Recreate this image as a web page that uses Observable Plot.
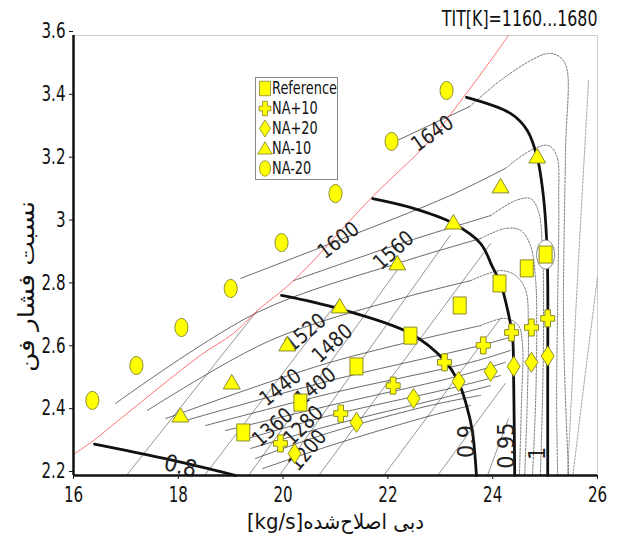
<!DOCTYPE html>
<html><head><meta charset="utf-8">
<script src="https://cdn.jsdelivr.net/npm/d3@7"></script>
<script src="https://cdn.jsdelivr.net/npm/@observablehq/plot@0.6"></script>
<style>
body{margin:0;background:#fff;}
#wrap{position:relative;width:618px;height:538px;font-family:"DejaVu Sans",sans-serif;}
#legend{position:absolute;left:255px;top:77px;width:83px;height:103px;border:1px solid #888;background:#fff;box-sizing:border-box;}
#legend svg{display:block;overflow:visible;}
</style></head><body><div id="wrap"></div>
<script>
// ---------- data ----------
const xTicks = [16, 18, 20, 22, 24, 26];
const yTicks = [2.2, 2.4, 2.6, 2.8, 3.0, 3.2, 3.4, 3.6];
const xLabel = "[kg/s]دبی اصلاح‌شده";
const yLabel = "نسبت فشار فن";
const title = "TIT[K]=1160...1680";

const seriesNames = ["Reference", "NA+10", "NA+20", "NA-10", "NA-20"];
const refX = [19.24, 20.33, 21.40, 22.43, 23.37, 24.13, 24.65, 25.01];
const refY = [2.337, 2.432, 2.547, 2.645, 2.741, 2.811, 2.859, 2.903];
const p10X = [19.95, 21.10, 22.10, 23.08, 23.82, 24.36, 24.74, 25.05];
const p10Y = [2.302, 2.397, 2.486, 2.560, 2.614, 2.655, 2.671, 2.700];
const p20X = [20.22, 21.40, 22.49, 23.35, 23.96, 24.40, 24.74, 25.05];
const p20Y = [2.270, 2.369, 2.445, 2.499, 2.531, 2.547, 2.560, 2.580];
const m10X = [18.04, 19.02, 20.08, 21.08, 22.18, 23.25, 24.15, 24.85];
const m10Y = [2.391, 2.496, 2.617, 2.738, 2.875, 3.005, 3.120, 3.215];
const m20X = [16.36, 17.20, 18.06, 19.00, 19.97, 21.00, 22.07, 23.12];
const m20Y = [2.439, 2.550, 2.671, 2.795, 2.941, 3.097, 3.263, 3.425];
const highlightPoint = {x: 25.01, y: 2.903};

// surge line (red)
const surgeX = [16.0, 16.38, 16.90, 18.42, 19.05, 19.51, 20.20, 21.67, 22.76, 23.44, 23.96, 24.30];
const surgeY = [2.267, 2.311, 2.381, 2.582, 2.652, 2.725, 2.820, 3.081, 3.259, 3.403, 3.520, 3.600];

// corrected speed lines (thick)
const speedNames = ["0.8", "0.9", "0.95", "1"];
const speedX = [
  [16.40, 17.80, 19.10],
  [19.97, 21.06, 22.43, 23.08, 23.35, 23.50, 23.61, 23.69],
  [21.71, 22.49, 23.25, 23.77, 24.00, 24.15, 24.30, 24.38, 24.40, 24.42],
  [23.50, 24.34, 24.66, 24.85, 24.97, 25.03, 25.05, 25.05, 25.05]
];
const speedY = [
  [2.300, 2.252, 2.200],
  [2.773, 2.731, 2.652, 2.566, 2.496, 2.423, 2.343, 2.200],
  [3.081, 3.050, 3.002, 2.938, 2.862, 2.811, 2.715, 2.639, 2.502, 2.200],
  [3.403, 3.352, 3.298, 3.212, 3.085, 2.948, 2.820, 2.502, 2.200]
];
const speedLabelX = [18.04, 23.50, 24.26, 24.85];
const speedLabelY = [2.229, 2.308, 2.295, 2.270];
const speedLabelRot = [14, -90, -90, -90];

// TIT lines: solid part (1160 ... 1640)
const titSolidX = [
  [19.61, 20.90, 22.62, 23.58],
  [19.47, 20.90, 22.81, 23.77],
  [19.38, 20.90, 23.00, 23.96],
  [19.19, 20.90, 23.19, 24.15],
  [18.90, 20.90, 23.39, 24.24],
  [18.52, 20.90, 23.58, 24.34],
  [18.14, 20.90, 23.77, 24.44],
  [17.76, 20.90, 23.77],
  [17.41, 19.76, 22.24, 23.58],
  [16.80, 19.51, 22.24, 23.77],
  [20.20, 22.24, 23.96],
  [19.19, 21.06, 23.19, 24.24],
  [22.18, 23.56]
];
const titSolidY = [
  [2.222, 2.295, 2.381, 2.423],
  [2.254, 2.337, 2.423, 2.455],
  [2.286, 2.359, 2.445, 2.486],
  [2.311, 2.391, 2.477, 2.518],
  [2.343, 2.423, 2.518, 2.560],
  [2.359, 2.461, 2.560, 2.598],
  [2.375, 2.502, 2.614, 2.645],
  [2.381, 2.560, 2.677],
  [2.407, 2.630, 2.763, 2.820],
  [2.429, 2.719, 2.878, 2.954],
  [2.820, 2.938, 3.027],
  [2.827, 2.948, 3.091, 3.177],
  [3.266, 3.374]
];
// TIT lines: dashed continuation (arch bending down)
const titDashX = [
  [23.77, 24.24, 24.49, 24.57, 24.55, 24.51],
  [23.58, 24.15, 24.44, 24.63, 24.68, 24.66, 24.61],
  [23.77, 24.24, 24.53, 24.72, 24.82, 24.84, 24.82, 24.76],
  [23.96, 24.44, 24.72, 24.87, 24.95, 24.97, 24.95, 24.91],
  [24.24, 24.72, 25.06, 25.22, 25.26, 25.24, 25.22, 25.24],
  [23.56, 24.15, 24.72, 25.06, 25.27, 25.41, 25.39, 25.35, 25.39, 25.45]
];
const titDashY = [
  [2.677, 2.700, 2.677, 2.614, 2.439, 2.200],
  [2.820, 2.852, 2.836, 2.789, 2.661, 2.439, 2.200],
  [2.954, 2.986, 2.980, 2.932, 2.820, 2.661, 2.439, 2.200],
  [3.027, 3.075, 3.081, 3.043, 2.916, 2.693, 2.439, 2.200],
  [3.177, 3.234, 3.250, 3.218, 3.075, 2.757, 2.439, 2.200],
  [3.374, 3.457, 3.520, 3.543, 3.533, 3.498, 3.234, 2.715, 2.439, 2.200]
];
// far-right dashed lines
const farX = [[25.83, 25.62, 25.43], [26.0, 25.75, 25.53]];
const farY = [[3.457, 2.830, 2.206], [2.830, 2.500, 2.200]];

const titLabels = ["1640", "1600", "1560", "1520", "1480", "1440", "1400", "1360", "1280", "1200"];
const titLabelX = [22.85, 21.06, 22.11, 20.43, 20.94, 19.95, 20.62, 19.80, 20.39, 20.47];
const titLabelY = [3.288, 2.948, 2.916, 2.655, 2.620, 2.480, 2.483, 2.353, 2.359, 2.280];
const titLabelRot = [-35, -38, -42, -40, -42, -38, -40, -42, -45, -50];

// steep thin lines
const steepX = [[17.01, 19.51], [18.50, 21.06], [19.34, 22.24], [19.93, 23.19], [20.68, 23.96], [21.92, 24.15], [22.95, 24.24], [23.90, 24.30]];
const steepY = [[2.200, 2.725], [2.200, 2.757], [2.200, 2.868], [2.200, 2.964], [2.200, 2.938], [2.200, 2.700], [2.200, 2.493], [2.200, 2.380]];

// ---------- build tables ----------
function pts(xs, ys, extra) { return xs.map((x, i) => ({x, y: ys[i], ...extra})); }
const speedData = speedX.flatMap((xs, k) => pts(xs, speedY[k], {k}));
const titSolid = titSolidX.flatMap((xs, k) => pts(xs, titSolidY[k], {k}));
const titDash = titDashX.flatMap((xs, k) => pts(xs, titDashY[k], {k}));
const farData = farX.flatMap((xs, k) => pts(xs, farY[k], {k}));
const steepData = steepX.flatMap((xs, k) => pts(xs, steepY[k], {k}));

// ---------- symbols ----------
const K = 0.5523;
function ellipse(c, a, b) {
  c.moveTo(a, 0);
  c.bezierCurveTo(a, b * K, a * K, b, 0, b);
  c.bezierCurveTo(-a * K, b, -a, b * K, -a, 0);
  c.bezierCurveTo(-a, -b * K, -a * K, -b, 0, -b);
  c.bezierCurveTo(a * K, -b, a, -b * K, a, 0);
  c.closePath();
}
const symRect = {draw(c) { c.rect(-6.5, -8.5, 13, 17); }};
const symEllipse = {draw(c) { ellipse(c, 6.5, 9); }};
const symDiamond = {draw(c) { c.moveTo(0, -10); c.lineTo(6.5, 0); c.lineTo(0, 10); c.lineTo(-6.5, 0); c.closePath(); }};
const symTri = {draw(c) { c.moveTo(0, -8); c.lineTo(8.5, 6.5); c.lineTo(-8.5, 6.5); c.closePath(); }};
const symPlus = {draw(c) {
  const w = 2.8, h = 8.5, a = 7;
  c.moveTo(-w, -h); c.lineTo(w, -h); c.lineTo(w, -w); c.lineTo(a, -w); c.lineTo(a, w); c.lineTo(w, w);
  c.lineTo(w, h); c.lineTo(-w, h); c.lineTo(-w, w); c.lineTo(-a, w); c.lineTo(-a, -w); c.lineTo(-w, -w); c.closePath();
}};
const symHalo = {draw(c) { ellipse(c, 9, 14.5); }};

const YEL = "#ffff00", EDGE = "#8a8a30";

const chart = Plot.plot({
  width: 618, height: 538,
  marginLeft: 73, marginRight: 21, marginTop: 35, marginBottom: 63,
  x: {domain: [16, 26], ticks: xTicks},
  y: {domain: [2.2, 3.6], ticks: yTicks},
  style: {fontFamily: '"DejaVu Sans",sans-serif', fontSize: "20px", color: "#111", background: "#fff", overflow: "visible"},
  marks: [
    Plot.ruleY([3.6], {stroke: "#ccc", strokeWidth: 1}),
    Plot.ruleX([26], {stroke: "#ccc", strokeWidth: 1}),
    Plot.line(steepData, {x: "x", y: "y", z: "k", stroke: "#666", strokeWidth: 0.7}),
    Plot.line(farData, {x: "x", y: "y", z: "k", stroke: "#777", strokeWidth: 0.7, strokeDasharray: "2,1.5", curve: "catmull-rom"}),
    Plot.line(titSolid, {x: "x", y: "y", z: "k", stroke: "#444", strokeWidth: 0.8, curve: "catmull-rom"}),
    Plot.line(titDash, {x: "x", y: "y", z: "k", stroke: "#555", strokeWidth: 0.8, strokeDasharray: "2,1.5", curve: "catmull-rom"}),
    Plot.line(pts(surgeX, surgeY, {}), {x: "x", y: "y", stroke: "#ff5050", strokeWidth: 0.8, curve: "catmull-rom"}),
    Plot.line(speedData, {x: "x", y: "y", z: "k", stroke: "#111", strokeWidth: 2.8, curve: "catmull-rom"}),
    Plot.text(titLabels, {x: (d, i) => titLabelX[i], y: (d, i) => titLabelY[i], text: d => d, rotate: (d, i) => titLabelRot[i], fontSize: 21, fill: "#222"}),
    Plot.text(speedNames, {x: (d, i) => speedLabelX[i], y: (d, i) => speedLabelY[i], text: d => d, rotate: (d, i) => speedLabelRot[i], fontSize: 23, fill: "#222"}),
    Plot.dot([highlightPoint], {x: "x", y: "y", symbol: symHalo, fill: "#fff", stroke: "#888", strokeWidth: 1}),
    Plot.dot(pts(m20X, m20Y, {}), {x: "x", y: "y", symbol: symEllipse, fill: YEL, stroke: EDGE, strokeWidth: 1}),
    Plot.dot(pts(m10X, m10Y, {}), {x: "x", y: "y", symbol: symTri, fill: YEL, stroke: EDGE, strokeWidth: 1}),
    Plot.dot(pts(refX, refY, {}), {x: "x", y: "y", symbol: symRect, fill: YEL, stroke: EDGE, strokeWidth: 1}),
    Plot.dot(pts(p10X, p10Y, {}), {x: "x", y: "y", symbol: symPlus, fill: YEL, stroke: EDGE, strokeWidth: 1}),
    Plot.dot(pts(p20X, p20Y, {}), {x: "x", y: "y", symbol: symDiamond, fill: YEL, stroke: EDGE, strokeWidth: 1}),
    Plot.ruleX([16], {stroke: "#111", strokeWidth: 2.5}),
    Plot.ruleY([2.2], {stroke: "#111", strokeWidth: 2.5}),
    Plot.axisX({ticks: xTicks, tickSize: 4, tickPadding: 8, tickFormat: d => String(d), label: null, fontSize: 21}),
    Plot.axisY({ticks: yTicks, tickSize: 4, tickPadding: 4, dy: -4, tickFormat: d => d === 3 ? "3" : d.toFixed(1), label: null, fontSize: 21}),
    Plot.text([xLabel], {frameAnchor: "bottom", lineAnchor: "middle", textAnchor: "middle", dy: 47, fontSize: 21, fill: "#111"}),
    Plot.text([yLabel], {frameAnchor: "left", lineAnchor: "middle", textAnchor: "middle", dx: -47, dy: 31, rotate: -90, fontSize: 22, fill: "#111"}),
    Plot.text([title], {frameAnchor: "top-right", lineAnchor: "middle", textAnchor: "end", dy: -17, fontSize: 22, fill: "#111"})
  ]
});
const wrap = document.getElementById("wrap");
wrap.appendChild(chart);

// squeeze/stretch texts along their own direction (reference uses a narrow face)
function squeeze(t, sx) {
  const tr = t.getAttribute("transform");
  if (tr) t.setAttribute("transform", tr + ` scale(${sx},1)`);
  else {
    const x = +(t.getAttribute("x") || 0), y = +(t.getAttribute("y") || 0);
    t.setAttribute("transform", `translate(${x},${y}) scale(${sx},1) translate(${-x},${-y})`);
  }
}
chart.querySelectorAll("text").forEach(t => {
  const s = t.textContent;
  let sx;
  if (s === yLabel) sx = 1.2;
  else if (s === xLabel) sx = 0.94;
  else if (s === title) sx = 0.72;
  else if (titLabels.includes(s)) sx = 0.86;
  else if (speedNames.includes(s)) sx = 0.9;
  else sx = 0.72;
  squeeze(t, sx);
});

// legend
const legSyms = [symRect, symPlus, symDiamond, symTri, symEllipse];
const leg = document.createElement("div");
leg.id = "legend";
const ns = "http://www.w3.org/2000/svg";
const lsvg = document.createElementNS(ns, "svg");
lsvg.setAttribute("width", 81); lsvg.setAttribute("height", 101);
seriesNames.forEach((name, i) => {
  const cy = 10.5 + 20 * i;
  const p = document.createElementNS(ns, "path");
  p.setAttribute("d", d3.symbol().type(legSyms[i])());
  p.setAttribute("transform", `translate(9,${cy}) scale(0.85)`);
  p.setAttribute("fill", YEL); p.setAttribute("stroke", EDGE);
  lsvg.appendChild(p);
  const t = document.createElementNS(ns, "text");
  t.textContent = name;
  t.setAttribute("transform", `translate(16,${cy}) scale(0.76,1)`);
  t.setAttribute("dy", "0.35em");
  t.setAttribute("font-size", "17");
  t.setAttribute("font-family", "DejaVu Sans, sans-serif");
  t.setAttribute("fill", "#111");
  lsvg.appendChild(t);
});
leg.appendChild(lsvg);
wrap.appendChild(leg);
</script>
</body></html>
